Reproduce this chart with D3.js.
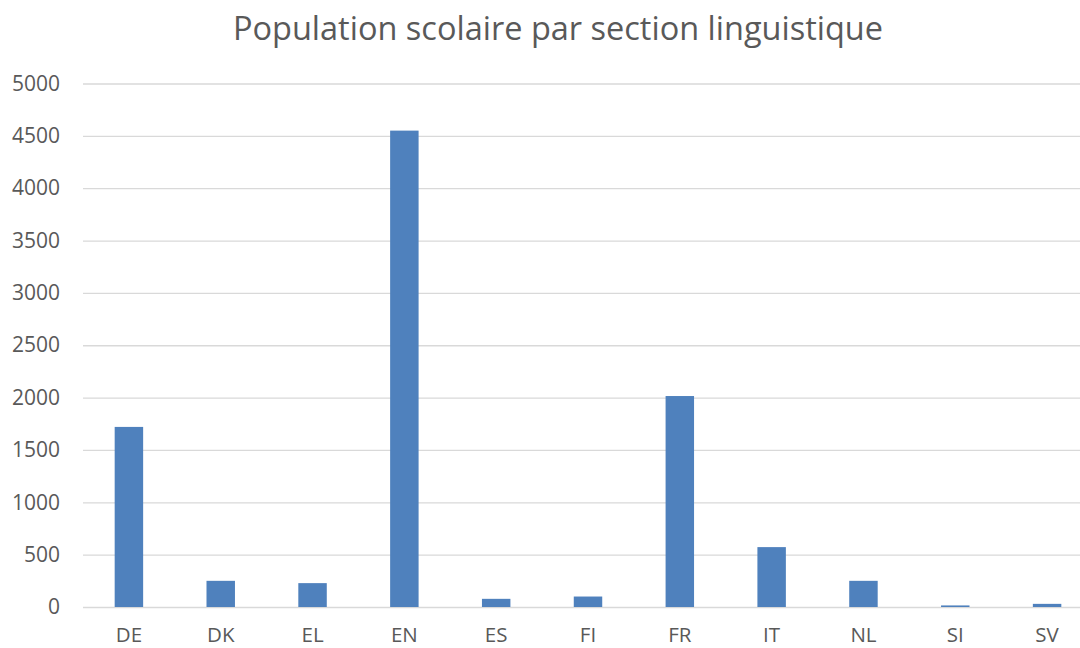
<!DOCTYPE html>
<html><head><meta charset="utf-8">
<script src="https://cdn.jsdelivr.net/npm/d3@7"></script>
<style>body{margin:0;background:#fff}svg{display:block}</style>
</head><body>
<script>
const categories = ["DE","DK","EL","EN","ES","FI","FR","IT","NL","SI","SV"];
const values = [1720, 250, 228, 4550, 78, 100, 2015, 572, 250, 15, 30];
const yTicks = [0,500,1000,1500,2000,2500,3000,3500,4000,4500,5000];
const title = "Population scolaire par section linguistique";

const W = 1080, H = 648;
const m = {left: 83, top: 83.5, bottom: 41};
const plotRight = 1093; // plot area extends slightly past the visible canvas
const svg = d3.select("body").append("svg").attr("width", W).attr("height", H);
const font = "'Open Sans', 'Noto Sans', sans-serif";

const x = d3.scaleBand().domain(categories).range([m.left, plotRight]).padding(0);
const y = d3.scaleLinear().domain([0, 5000]).range([H - m.bottom, m.top]);

// gridlines
svg.append("g").attr("transform", `translate(${m.left},0)`)
  .call(d3.axisLeft(y).tickValues(yTicks).tickSize(-(W - m.left)).tickFormat(""))
  .call(g => g.select(".domain").remove())
  .call(g => g.selectAll("line").attr("stroke", "#d9d9d9").attr("stroke-width", 1.3));

// y labels
svg.append("g").attr("transform", `translate(${m.left},0)`)
  .call(d3.axisLeft(y).tickValues(yTicks).tickSize(0).tickPadding(23).tickFormat(d3.format("d")))
  .call(g => g.select(".domain").remove())
  .call(g => g.selectAll("text").attr("fill", "#595959").style("font-family", font).style("font-size", "21px"));

// bars
const bw = x.bandwidth() * 0.31;
svg.append("g").selectAll("rect").data(categories).join("rect")
  .attr("x", (d) => x(d) + (x.bandwidth() - bw) / 2)
  .attr("width", bw)
  .attr("y", (d, i) => y(values[i]))
  .attr("height", (d, i) => y(0) - y(values[i]))
  .attr("fill", "#4f81bd");

// x labels
svg.append("g").attr("transform", `translate(0,${H - m.bottom})`)
  .call(d3.axisBottom(x).tickSize(0).tickPadding(20))
  .call(g => g.select(".domain").remove())
  .call(g => g.selectAll("text").attr("fill", "#595959").style("font-family", font).style("font-size", "20.5px"));

// title
svg.append("text").attr("x", 558).attr("y", 40).attr("text-anchor", "middle")
  .attr("fill", "#595959").style("font-family", font).style("font-size", "32.5px")
  .text(title);
</script>
</body></html>
